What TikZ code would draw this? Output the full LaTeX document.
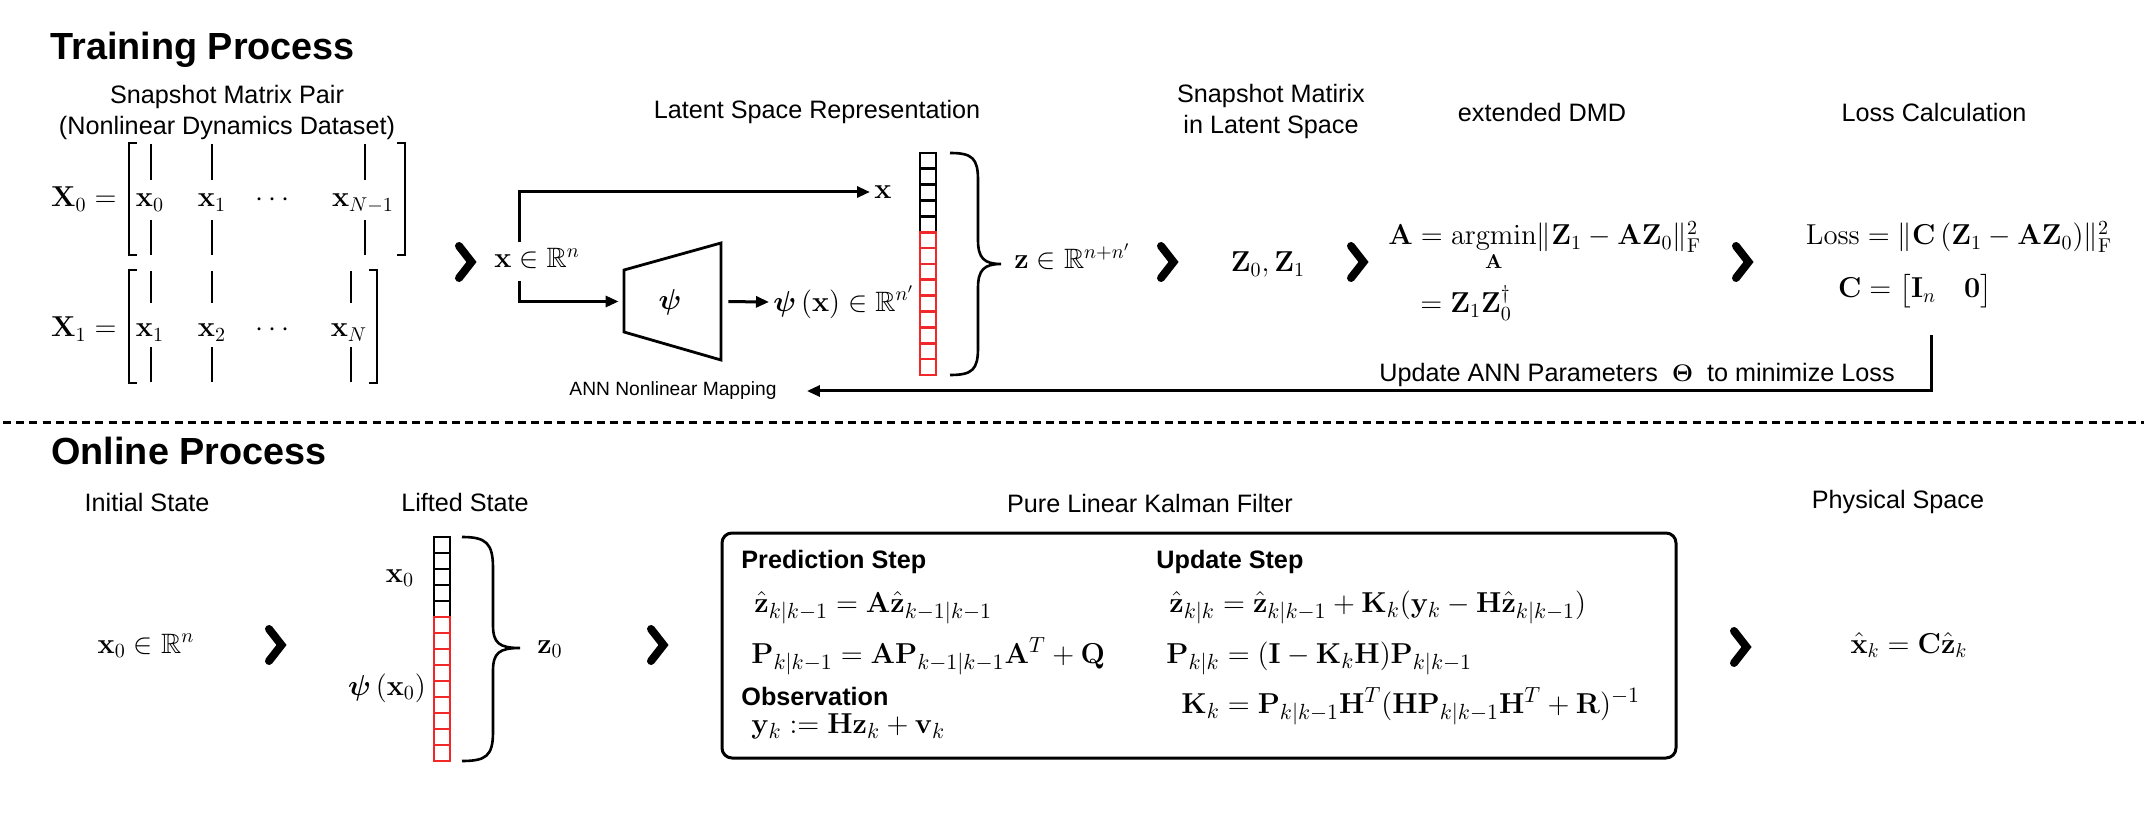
\documentclass[tikz,border=0pt]{standalone}
\usepackage{amsmath,amssymb}
\usepackage[no-math]{fontspec}
\setmainfont{Liberation Sans}
\usetikzlibrary{arrows.meta}
\definecolor{cellred}{RGB}{240,40,40}
\newcommand\chevron[2]{\draw[chev] (#1-6,#2-16) -- (#1+6.5,#2) -- (#1-6,#2+16);}
\tikzset{
 lbl/.style={font=\fontsize{12.6}{15.5}\selectfont, inner sep=0pt, align=center},
 smlbl/.style={font=\fontsize{9.6}{12}\selectfont, inner sep=0pt, align=center},
 head/.style={font=\fontsize{18.9}{22}\selectfont\bfseries, inner sep=0pt, anchor=base west},
 mth/.style={font=\fontsize{14}{17}\selectfont, inner sep=0pt},
 kmth/.style={font=\fontsize{15}{18}\selectfont, inner sep=0pt, anchor=base west},
 kh/.style={font=\fontsize{12.6}{15}\selectfont\bfseries, inner sep=0pt, anchor=base west},
 chev/.style={line width=4pt, line cap=round, line join=miter},
 conn/.style={line width=1.5pt, -{Triangle[length=6.5pt,width=5.5pt]}},
 mline/.style={line width=0.7pt},
 cellk/.style={draw=black, line width=1.35pt},
 cellr/.style={draw=cellred, line width=1.35pt},
 brc/.style={line width=1.3pt},
}
\begin{document}
\begin{tikzpicture}[x=0.5pt,y=-0.5pt]
\useasboundingbox (0,0) rectangle (2144,818);
% ---------------- Training ----------------
\node[head] (trh) at (50,60) {Training Process};
\node[lbl] (smp) at (227,112) {Snapshot Matrix Pair\\(Nonlinear Dynamics Dataset)};
% X0 matrix
\node[mth, anchor=base east] (X0lab) at (117,207) {$\mathbf{X}_0 =$};
\draw[mline] (137,143) -- (129,143) -- (129,255) -- (137,255);
\draw[mline] (397,143) -- (405,143) -- (405,255) -- (397,255);
\foreach \bx in {151,212,365} {\draw[mline] (\bx,144) -- (\bx,180); \draw[mline] (\bx,220) -- (\bx,255);}
\node[mth, anchor=base] (a00) at (150,207) {$\mathbf{x}_0$};
\node[mth, anchor=base] (a01) at (212,207) {$\mathbf{x}_1$};
\node[mth, anchor=base] (a02) at (275,207) {$\cdots$};
\node[mth, anchor=base] (a03) at (363,207) {$\mathbf{x}_{N-1}$};
% X1 matrix
\node[mth, anchor=base east] (X1lab) at (117,337) {$\mathbf{X}_1 =$};
\draw[mline] (137,270) -- (129,270) -- (129,383) -- (137,383);
\draw[mline] (369,270) -- (377,270) -- (377,383) -- (369,383);
\foreach \bx in {151,212,351} {\draw[mline] (\bx,271) -- (\bx,303); \draw[mline] (\bx,347) -- (\bx,382);}
\node[mth, anchor=base] (b00) at (150,337) {$\mathbf{x}_1$};
\node[mth, anchor=base] (b01) at (212,337) {$\mathbf{x}_2$};
\node[mth, anchor=base] (b02) at (275,337) {$\cdots$};
\node[mth, anchor=base] (b03) at (349,337) {$\mathbf{x}_N$};
\chevron{465}{262}
% latent space
\node[lbl] (lsr) at (817,112) {Latent Space Representation};
\node[mth, anchor=base west] (xin) at (494,268) {$\mathbf{x} \in \mathbb{R}^n$};
\coordinate (br1) at (519,242);
\coordinate (br2) at (519,281);
\node[mth, anchor=west, inner sep=2pt] (xlab) at (870,192) {$\mathbf{x}$};
\node[minimum width=48.5pt, minimum height=58.5pt, inner sep=0pt] (psib) at (672.5,301.5) {};
\draw[line width=1.4pt] (624,270) -- (721,243) -- (721,360) -- (624,332) -- cycle;
\node[mth] (psil) at (670,302) {$\boldsymbol{\psi}$};
\draw[conn] (br1) |- (xlab.west);
\draw[conn, shorten >=2.5pt] (br2) |- (psib.west);
\node[mth, anchor=west, inner sep=2pt] (psix) at (769,302) {$\boldsymbol{\psi}\,(\mathbf{x}) \in \mathbb{R}^{n'}$};
\draw[conn, shorten <=3.5pt] (psib.east) -- (psix.west);
% column vector 1
\foreach \i in {0,...,4} {\draw[cellk] (920,153+\i*15.85) rectangle (936,153+\i*15.85+15.85);}
\foreach \i in {5,...,13} {\draw[cellr] (920,153+\i*15.85) rectangle (936,153+\i*15.85+15.85);}
\draw[brc] (950,153) .. controls (972,153) and (978,158) .. (978,180) -- (978,240)
  .. controls (978,258) and (984,264) .. (1001,264)
  .. controls (984,264) and (978,270) .. (978,288) -- (978,348)
  .. controls (978,370) and (972,375) .. (950,375);
\node[mth, anchor=base west] (zin) at (1014,269) {$\mathbf{z} \in \mathbb{R}^{n+n'}$};
\chevron{1167}{262}
% snapshot latent
\node[lbl] (sml) at (1271,111) {Snapshot Matirix\\in Latent Space};
\node[mth, anchor=base] (zz) at (1268,272) {$\mathbf{Z}_0, \mathbf{Z}_1$};
\chevron{1357}{262}
% extended DMD
\node[lbl] (edmd) at (1542,112) {extended DMD};
\node[mth, anchor=base west] (dmd1) at (1388,245) {$\mathbf{A} = \smash{\displaystyle\operatorname*{argmin}_{\mathbf{A}}} \|\mathbf{Z}_1 - \mathbf{A}\mathbf{Z}_0\|_\mathrm{F}^2$};
\node[mth, anchor=base west] (dmd2) at (1420,313) {$= \mathbf{Z}_1\mathbf{Z}_0^\dagger$};
\chevron{1742}{262}
% loss
\node[lbl] (lcal) at (1934,112) {Loss Calculation};
\node[mth, anchor=base] (loss1) at (1959,245) {$\mathrm{Loss} = \|\mathbf{C}\,(\mathbf{Z}_1 - \mathbf{A}\mathbf{Z}_0)\|_\mathrm{F}^2$};
\node[mth, anchor=base] (loss2) at (1915,298) {$\mathbf{C} = \bigl[\mathbf{I}_n \quad \mathbf{0}\bigr]$};
\coordinate (fb) at (1931,335);
\node[smlbl] (ann) at (673,391) {ANN Nonlinear Mapping};
\draw[conn, shorten >=15pt] (fb) |- (ann.east);
\node[lbl] (upd) at (1637,375) {Update ANN Parameters~~$\boldsymbol{\Theta}$~~to minimize Loss};
% separator
\draw[line width=1.5pt, dash pattern=on 4pt off 2.6pt, dash phase=-1.5pt] (0,423) -- (2144,423);
% ---------------- Online ----------------
\node[head] (onh) at (51,465) {Online Process};
\node[lbl] (ist) at (147,502) {Initial State};
\node[lbl] (lst) at (465,502) {Lifted State};
\node[lbl] (plkf) at (1150,503) {Pure Linear Kalman Filter};
\node[lbl] (phs) at (1898,502) {Physical Space};
\node[mth, anchor=base] (x0in) at (146,653) {$\mathbf{x}_0 \in \mathbb{R}^n$};
\chevron{275}{645}
\foreach \i in {0,...,4} {\draw[cellk] (434,537+\i*16) rectangle (450,537+\i*16+16);}
\foreach \i in {5,...,13} {\draw[cellr] (434,537+\i*16) rectangle (450,537+\i*16+16);}
\node[mth, anchor=base] (x0l) at (400,582) {$\mathbf{x}_0$};
\node[mth] (psx0) at (387,688) {$\boldsymbol{\psi}\,(\mathbf{x}_0)$};
\draw[brc] (462,537) .. controls (486,537) and (493,543) .. (493,568) -- (493,625)
  .. controls (493,643) and (499,648) .. (520,648)
  .. controls (499,648) and (493,653) .. (493,671) -- (493,732)
  .. controls (493,756) and (486,761) .. (462,761);
\node[mth, anchor=base] (z0) at (550,653) {$\mathbf{z}_0$};
\chevron{657}{645}
% Kalman box
\node[draw, rounded corners=5pt, line width=1.5pt, minimum width=477pt, minimum height=112.5pt, inner sep=0pt] (kf) at (1199,645.5) {};
\node[kh] (pst) at (741,568) {Prediction Step};
\node[kh] (ust) at (1156,568) {Update Step};
\node[kh] (obs) at (741,705) {Observation};
\node[kmth] (k1) at (754,612) {$\hat{\mathbf{z}}_{k|k-1} = \mathbf{A}\hat{\mathbf{z}}_{k-1|k-1}$};
\node[kmth] (k2) at (751,663) {$\mathbf{P}_{k|k-1} = \mathbf{A}\mathbf{P}_{k-1|k-1}\mathbf{A}^T + \mathbf{Q}$};
\node[kmth] (k3) at (751,733) {$\mathbf{y}_k := \mathbf{H}\mathbf{z}_k + \mathbf{v}_k$};
\node[kmth] (k4) at (1169,612) {$\hat{\mathbf{z}}_{k|k} = \hat{\mathbf{z}}_{k|k-1} + \mathbf{K}_k(\mathbf{y}_k - \mathbf{H}\hat{\mathbf{z}}_{k|k-1})$};
\node[kmth] (k5) at (1166,663) {$\mathbf{P}_{k|k} = (\mathbf{I} - \mathbf{K}_k\mathbf{H})\mathbf{P}_{k|k-1}$};
\node[kmth] (k6) at (1181,713) {$\mathbf{K}_k = \mathbf{P}_{k|k-1}\mathbf{H}^T(\mathbf{H}\mathbf{P}_{k|k-1}\mathbf{H}^T + \mathbf{R})^{-1}$};
\chevron{1740}{647}
\node[mth, anchor=base, font=\fontsize{14.5}{17}\selectfont] (xhat) at (1909,653) {$\hat{\mathbf{x}}_k = \mathbf{C}\hat{\mathbf{z}}_k$};
\end{tikzpicture}
\end{document}
